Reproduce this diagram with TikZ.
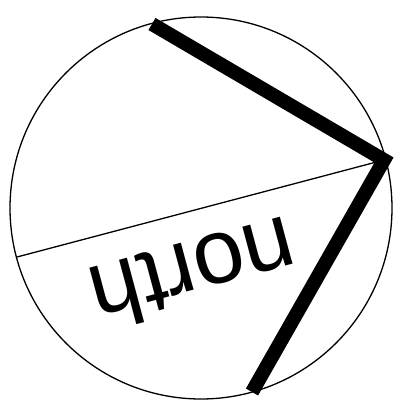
\documentclass[tikz,border=0pt]{standalone}
\usepackage{fontspec}
\setmainfont{Liberation Sans}
\usepackage{tikz}
\usetikzlibrary{calc}
\definecolor{figline}{RGB}{0,0,0}
\tikzset{
  thin/.style   ={draw=figline, line width=1.3pt},
  bar/.style    ={draw=figline, line width=14pt, line cap=butt, line join=miter},
  word/.style   ={font=\fontsize{92}{92}\selectfont, inner sep=0pt},
}
\begin{document}
\begin{tikzpicture}[x=1pt,y=-1pt]
  \useasboundingbox (0,0) rectangle (405,408);
  \node[thin,circle,minimum size=382pt,inner sep=0pt] (disc) at (201,208) {};
  \coordinate (tip)   at (384,160);
  \coordinate (left)  at (17,257);
  \coordinate (upper) at (152,24);
  \coordinate (lower) at (252,392);
  \draw[thin] (left) -- (tip);
  \draw[bar] (upper) -- (tip) -- (lower);
  \node[word,rotate=195] (label) at (194,274) {north};
\end{tikzpicture}
\end{document}
